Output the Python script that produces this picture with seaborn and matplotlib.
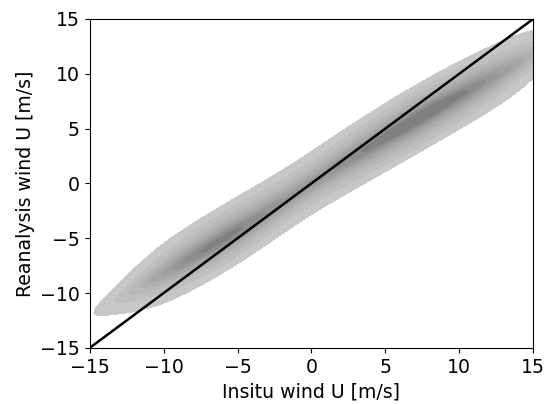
import numpy as np
import pandas as pd
import matplotlib
matplotlib.use("Agg")
import matplotlib.pyplot as plt
import seaborn as sns

# centre line of the density ridge
ridge_x = [-15, -13, -11, -9, -7, -5, -3, -1, 1, 3, 5, 7, 9, 11, 13, 15]
ridge_y = [-11.6, -10.4, -8.9, -7.4, -5.9, -4.3, -2.6, -0.8, 0.9, 2.6, 4.2, 5.8, 7.3, 8.7, 10.2, 11.7]
ridge_w = [0.12, 0.55, 1.4, 2.6, 3.7, 3.4, 2.5, 2.1, 2.4, 2.9, 3.6, 4.1, 3.8, 3.0, 2.2, 1.5]

# spread across the ridge (vertical offsets and their weights)
spread_dy = [-3.0, -2.5, -2.0, -1.5, -1.0, -0.5, 0.0, 0.5, 1.0, 1.5, 2.0, 2.5, 3.0]
spread_w = [0.1, 0.15, 0.22, 0.32, 0.46, 0.7, 1.0, 0.7, 0.46, 0.32, 0.22, 0.15, 0.1]

rows = []
for x, y, w in zip(ridge_x, ridge_y, ridge_w):
    for dy, sw in zip(spread_dy, spread_w):
        rows.append((x, y + dy, w * sw))
df = pd.DataFrame(rows, columns=["insitu", "reanalysis", "w"])

fig, ax = plt.subplots(figsize=(5.44, 4.04), dpi=100)
fig.subplots_adjust(left=0.165, right=0.98, top=0.953, bottom=0.139)

greys = sns.blend_palette(["#cbcbcb", "#777777"], as_cmap=True)
sns.kdeplot(data=df, x="insitu", y="reanalysis", weights="w", fill=True,
            cmap=greys, bw_adjust=0.55, levels=10, thresh=0.05, ax=ax)

lims = [-15, 15]
ax.plot(lims, lims, color="black", lw=1.8)
ax.set_xlim(lims)
ax.set_ylim(lims)
ax.set_xticks([-15, -10, -5, 0, 5, 10, 15])
ax.set_yticks([-15, -10, -5, 0, 5, 10, 15])
ax.tick_params(labelsize=13.6)
ax.set_xlabel("Insitu wind U [m/s]", fontsize=13.6)
ax.set_ylabel("Reanalysis wind U [m/s]", fontsize=13.6)

fig.savefig("out.png", dpi=100)
